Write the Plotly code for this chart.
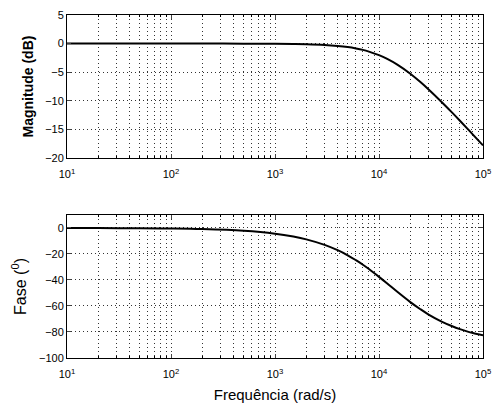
import plotly.graph_objects as go
from plotly.subplots import make_subplots

# frequencies (rad/s) and values
freq = [10, 20, 50, 100, 200, 500, 1000, 1500, 2000, 3000, 4000, 5000, 6000, 7000,
        8000, 10000, 12000, 15000, 20000, 25000, 30000, 40000, 50000, 60000, 70000,
        80000, 100000]
mag_db = [0.0, 0.0, 0.0, 0.0, 0.0, -0.006, -0.026, -0.057, -0.10, -0.225, -0.40, -0.60,
          -0.84, -1.10, -1.40, -2.02, -2.68, -3.68, -5.27, -6.72, -8.01, -10.20, -11.98,
          -13.48, -14.77, -15.90, -17.79]
phase_deg = [-0.04, -0.09, -0.22, -0.44, -0.88, -2.2, -4.4, -6.6, -8.75, -13.0, -17.1,
             -21.0, -24.8, -28.3, -31.6, -37.6, -42.7, -49.1, -57.0, -62.5, -66.6, -72.0,
             -75.4, -77.8, -79.5, -80.8, -82.6]

x_major = [10, 100, 1000, 10000, 100000]
x_labels = ["10<sup>1</sup>", "10<sup>2</sup>", "10<sup>3</sup>", "10<sup>4</sup>", "10<sup>5</sup>"]
x_minor = [m * d for d in [10, 100, 1000, 10000] for m in range(2, 10)]
mag_ticks = [5, 0, -5, -10, -15, -20]
phase_ticks = [0, -20, -40, -60, -80, -100]

fig = make_subplots(rows=2, cols=1, vertical_spacing=0.166)

line = dict(color="black", width=2)
fig.add_trace(go.Scatter(x=freq, y=mag_db, mode="lines", line=line, line_shape="spline",
                         showlegend=False), row=1, col=1)
fig.add_trace(go.Scatter(x=freq, y=phase_deg, mode="lines", line=line, line_shape="spline",
                         showlegend=False), row=2, col=1)

FAM = "Liberation Sans, Arial, sans-serif"
font = dict(family=FAM, size=11, color="black")
gridc = "#333"
DASH = "1px,3px"

xcommon = dict(type="log", range=[1, 5], tickmode="array", tickvals=x_major,
               ticktext=x_labels, ticks="inside", ticklen=4, mirror="ticks",
               showline=True, linecolor="black", linewidth=1,
               showgrid=True, gridcolor=gridc, griddash=DASH, gridwidth=1,
               zeroline=False, tickfont=font, ticklabeloverflow="allow",
               ticklabelstandoff=6, automargin=False,
               minor=dict(tickmode="array", tickvals=x_minor, ticks="inside", ticklen=2,
                          tickcolor="black",
                          showgrid=True, gridcolor=gridc, griddash=DASH, gridwidth=1))
fig.update_xaxes(**xcommon, row=1, col=1)
fig.update_xaxes(**xcommon, row=2, col=1)
fig.update_xaxes(title=dict(text="Frequência (rad/s)",
                            font=dict(family=FAM, size=15, color="black"),
                            standoff=10), row=2, col=1)

ycommon = dict(ticks="inside", ticklen=4, mirror="ticks", showline=True, linecolor="black",
               linewidth=1, showgrid=True, gridcolor=gridc, griddash=DASH, gridwidth=1,
               zeroline=False, tickfont=font, tickmode="array", automargin=False)
fig.update_yaxes(**ycommon, range=[-20, 5], tickvals=mag_ticks,
                 title=dict(text="<b>Magnitude (dB)</b>",
                            font=dict(family=FAM, size=14, color="black"),
                            standoff=8), row=1, col=1)
fig.update_yaxes(**ycommon, range=[-100, 10], tickvals=phase_ticks,
                 title=dict(text="Fase (<sup>0</sup>)",
                            font=dict(family=FAM, size=16, color="black"),
                            standoff=8), row=2, col=1)

fig.update_layout(width=493, height=403, margin=dict(l=67, r=10, t=15, b=45),
                  plot_bgcolor="white", paper_bgcolor="white")
fig.layout.yaxis.domain = [0.583, 1.0]
fig.layout.yaxis2.domain = [0.0, 0.417]

fig.write_html("out.html", config={"displayModeBar": False},
               post_script="document.body.style.margin='0';document.body.style.overflow='hidden';")
